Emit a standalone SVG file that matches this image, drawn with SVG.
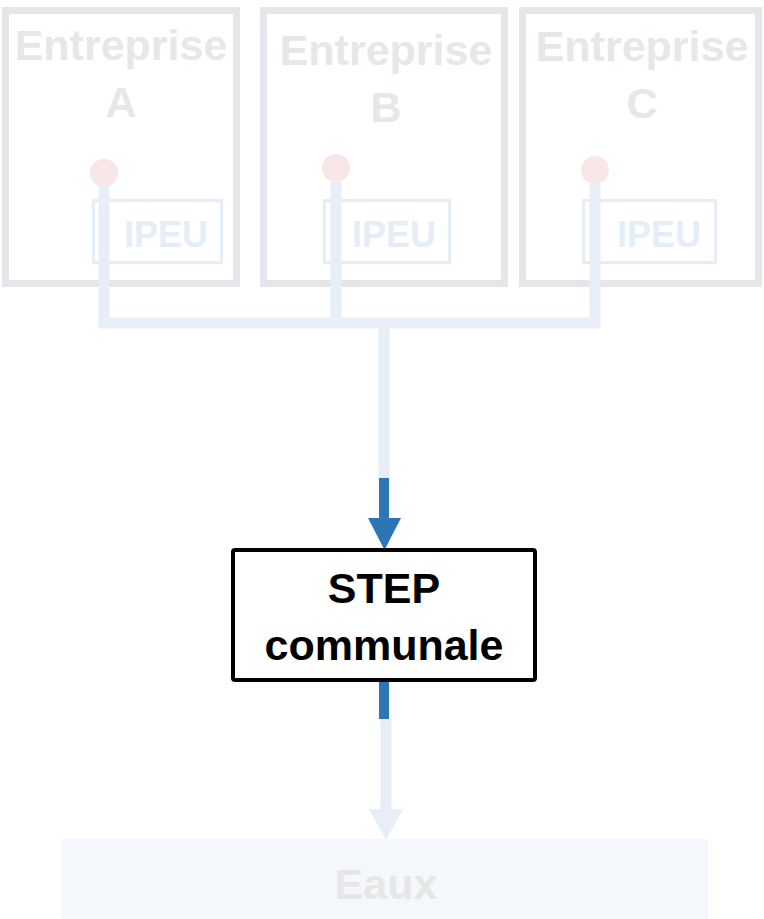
<svg xmlns="http://www.w3.org/2000/svg" width="764" height="919" viewBox="0 0 764 919">
  <style>
    .ent { fill: #ffffff; stroke: #e5e6ea; stroke-width: 7; }
    .ent-t { font-family: "Liberation Sans", Arial, sans-serif; font-weight: bold; font-size: 43px; fill: #e7e7e7; text-anchor: middle; }
    .ipeu { fill: none; stroke: #e4edf8; stroke-width: 3; }
    .ipeu-t { font-family: "Liberation Sans", Arial, sans-serif; font-weight: bold; font-size: 36px; fill: #e4edf8; text-anchor: middle; }
    .src { fill: #f9e7e7; }
    .pipe { fill: none; stroke: #e8eef7; stroke-width: 11; }
    .flow { fill: none; stroke: #2e75b6; stroke-width: 10; }
    .step-t { font-family: "Liberation Sans", Arial, sans-serif; font-weight: bold; font-size: 43px; fill: #000000; text-anchor: middle; }
    .eaux-t { font-family: "Liberation Sans", Arial, sans-serif; font-weight: bold; font-size: 43px; fill: #e6e6e6; text-anchor: middle; }
  </style>

  <!-- Companies -->
  <g id="entreprise-a">
    <rect class="ent" x="5.5" y="10.5" width="231" height="273"/>
    <text class="ent-t" x="121" y="60">Entreprise</text>
    <text class="ent-t" x="121" y="117">A</text>
  </g>
  <g id="entreprise-b">
    <rect class="ent" x="263.5" y="10.5" width="241" height="273"/>
    <text class="ent-t" x="386" y="65">Entreprise</text>
    <text class="ent-t" x="386" y="122">B</text>
  </g>
  <g id="entreprise-c">
    <rect class="ent" x="522.5" y="10.5" width="236" height="273"/>
    <text class="ent-t" x="642" y="61">Entreprise</text>
    <text class="ent-t" x="642" y="118">C</text>
  </g>

  <!-- Pre-treatment units -->
  <g id="ipeu-a">
    <rect class="ipeu" x="93.5" y="200.5" width="128" height="62"/>
    <text class="ipeu-t" x="166" y="247">IPEU</text>
  </g>
  <g id="ipeu-b">
    <rect class="ipeu" x="324.5" y="200.5" width="125" height="62"/>
    <text class="ipeu-t" x="394" y="247">IPEU</text>
  </g>
  <g id="ipeu-c">
    <rect class="ipeu" x="583.5" y="200.5" width="132" height="62"/>
    <text class="ipeu-t" x="659" y="247">IPEU</text>
  </g>

  <!-- Discharge points -->
  <g id="rejet-a"><circle class="src" cx="104" cy="173" r="14"/></g>
  <g id="rejet-b"><circle class="src" cx="336" cy="168" r="14"/></g>
  <g id="rejet-c"><circle class="src" cx="595" cy="170" r="14"/></g>

  <!-- Pipes and flows -->
  <g id="connectors">
    <path class="pipe" d="M104 185 V323 M336 182 V323 M595 184 V323 M98.5 323 H600.5 M384 323 V480"/>
    <path class="flow" d="M384 478 V520"/>
    <polygon fill="#2e75b6" points="368,518 401,518 384.5,550"/>
    <path class="flow" d="M384 682 V719"/>
    <path class="pipe" d="M386 719 V811"/>
    <polygon fill="#e8eef7" points="369,809 403,809 386,840"/>
  </g>

  <!-- Municipal treatment plant -->
  <g id="step-communale">
    <rect x="233" y="550" width="302" height="130" rx="2" fill="#ffffff" stroke="#000000" stroke-width="4"/>
    <text class="step-t" x="384" y="603">STEP</text>
    <text class="step-t" x="384" y="660">communale</text>
  </g>

  <!-- Receiving waters -->
  <g id="eaux">
    <rect x="62" y="839" width="646" height="80" fill="#f4f7fb"/>
    <text class="eaux-t" x="386" y="899">Eaux</text>
  </g>
</svg>
